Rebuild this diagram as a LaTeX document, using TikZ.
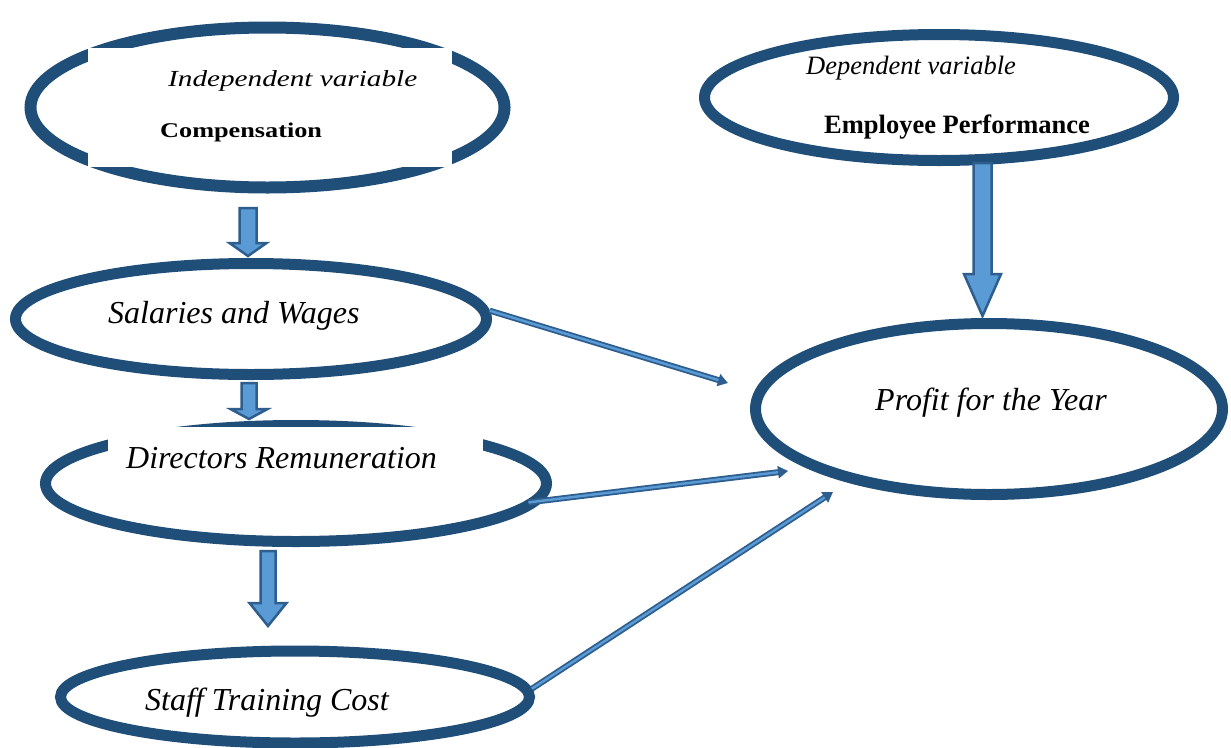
\documentclass[tikz,border=0pt]{standalone}
\usepackage{fontspec}
\setmainfont{Liberation Serif}
\usepackage{graphicx}
\usetikzlibrary{shapes.geometric,arrows.meta}

\definecolor{ringblue}{HTML}{1F4E79}
\definecolor{fillblue}{HTML}{5B9BD5}
\definecolor{edgeblue}{HTML}{2E5E8E}

\tikzset{
  ring/.style={ellipse, draw=ringblue, line width=11pt, fill=white, inner sep=0pt},
  txt/.style={inner sep=0pt, anchor=base west, text=black},
  big/.style={font=\fontsize{32}{38}\selectfont\itshape},
  blockarrow/.style={draw=edgeblue, fill=fillblue, line width=2.5pt, line join=miter},
  link/.style={draw=edgeblue, line width=6pt, -{Triangle[length=10pt,width=12pt]},
    postaction={draw=fillblue, line width=2.4pt, -, shorten >=10pt}},
}

% downward block arrow: x, shaft top, head base, tip, shaft half width, head half width
\newcommand{\blockdown}[6]{%
  \draw[blockarrow] (#1-#5,#2) -- (#1+#5,#2) -- (#1+#5,#3) -- (#1+#6,#3)
    -- (#1,#4) -- (#1-#6,#3) -- (#1-#5,#3) -- cycle;}

\begin{document}
\begin{tikzpicture}[x=1pt,y=-1pt]
  \useasboundingbox (0,0) rectangle (1231,747);
  \fill[white] (0,0) rectangle (1231,747);

  % ellipses
  \node[ring, minimum width=474pt, minimum height=160pt, line width=12pt] (comp) at (267.5,107.5) {};
  \node[ring, minimum width=469pt, minimum height=126pt] (emp)    at (939,97.5) {};
  \node[ring, minimum width=471pt, minimum height=111pt] (sal)    at (251,319) {};
  \node[ring, minimum width=501pt, minimum height=116pt] (dir)    at (296,483.5) {};
  \node[ring, minimum width=469pt, minimum height=92pt]  (staff)  at (295,697) {};
  \node[ring, minimum width=467pt, minimum height=171pt] (profit) at (989,409) {};

  % white text panels lying over two of the rings
  \fill[white] (88,48) rectangle (452,167);
  \fill[white] (108,427) rectangle (483,495);

  % labels
  \node[txt] (t1) at (168,86)
    {\scalebox{1.27}[1]{\fontsize{23}{28}\selectfont\itshape Independent variable}};
  \node[txt] (t2) at (160,137)
    {\scalebox{1.25}[1]{\fontsize{21}{26}\selectfont\bfseries Compensation}};
  \node[txt, font=\fontsize{26.5}{32}\selectfont\itshape] (t3) at (806,74) {Dependent variable};
  \node[txt, font=\fontsize{26.5}{32}\selectfont\bfseries] (t4) at (824,133) {Employee Performance};
  \node[txt, big] (t5) at (108,323) {Salaries and Wages};
  \node[txt, big] (t6) at (126,468) {Directors Remuneration};
  \node[txt, big] (t7) at (145,710) {Staff Training Cost};
  \node[txt, big] (t8) at (875,410) {Profit for the Year};

  % block arrows down the chain
  \blockdown{248}{208}{243}{256}{8.5}{18.5}
  \blockdown{249}{383}{409}{419}{7.5}{18.5}
  \blockdown{268}{551}{603}{626}{7.5}{18.5}
  \blockdown{982.5}{163}{274}{316}{9}{18.5}

  % links into profit
  \coordinate (p1) at (728,383);
  \coordinate (p2) at (788,471);
  \coordinate (p3) at (833,492);
  \draw[link] (sal.2) -- (p1);
  \draw[link, shorten <=-14pt] (dir.-4) -- (p2);
  \draw[link] (staff.2) -- (p3);
\end{tikzpicture}
\end{document}
